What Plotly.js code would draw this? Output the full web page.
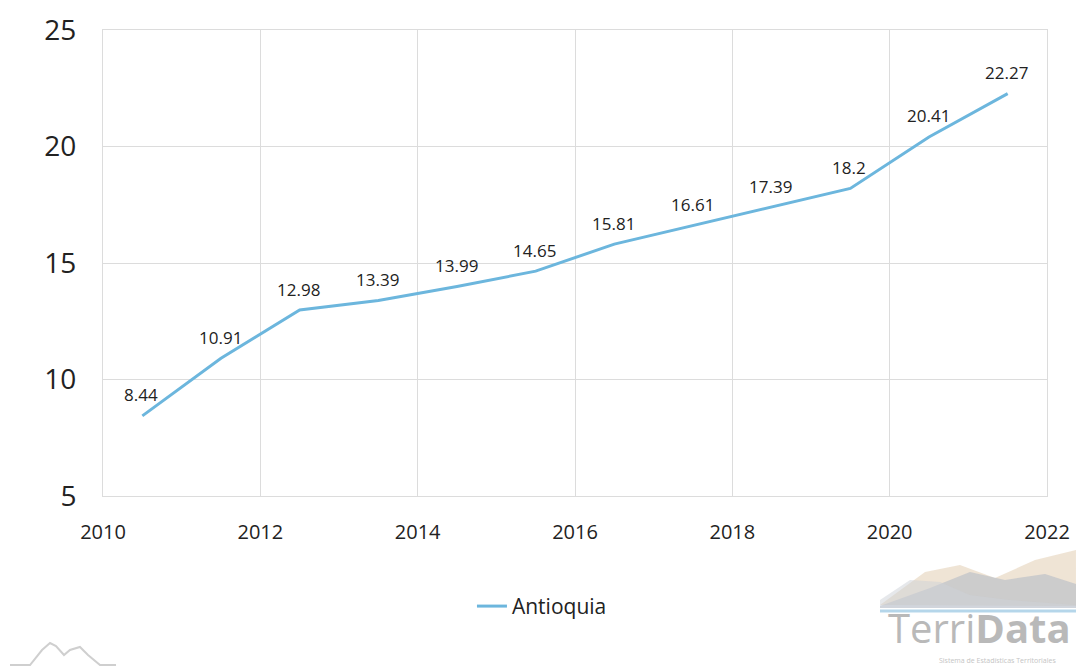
<!DOCTYPE html>
<html>
<head>
<meta charset="utf-8">
<script src="https://cdn.plot.ly/plotly-3.0.1.min.js"></script>
<style>html,body{margin:0;padding:0;background:#fff;}#chart{width:1076px;height:667px;}</style>
</head>
<body>
<div id="chart"></div>
<script>
const years = [2010.5, 2011.5, 2012.5, 2013.5, 2014.5, 2015.5, 2016.5, 2017.5, 2018.5, 2019.5, 2020.5, 2021.5];
const values = [8.44, 10.91, 12.98, 13.39, 13.99, 14.65, 15.81, 16.61, 17.39, 18.2, 20.41, 22.27];
const labels = ["8.44", "10.91", "12.98", "13.39", "13.99", "14.65", "15.81", "16.61", "17.39", "18.2", "20.41", "22.27"];
const seriesName = "Antioquia";

const trace = {
  x: years, y: values, type: "scatter", mode: "lines",
  name: seriesName,
  line: {color: "#6cb6dd", width: 3}
};

// decorative logo helpers (pixel -> paper)
const L = 103, R = 1047, T = 30, B = 496;
function px(x) { return (x - L) / (R - L); }
function py(y) { return (B - y) / (B - T); }
function path(pts, close) {
  return pts.map((p, i) => (i ? "L" : "M") + px(p[0]).toFixed(4) + "," + py(p[1]).toFixed(4)).join(" ") + (close ? " Z" : "");
}

const dataLabels = years.map((x, i) => ({
  x: x, y: values[i], xref: "x", yref: "y", text: labels[i], showarrow: false,
  yshift: 21, xshift: -1, font: {family: "Open Sans", size: 17, color: "#222"}
}));

const logoShapes = [
  {type: "path", xref: "paper", yref: "paper", layer: "below", line: {width: 0},
   fillcolor: "rgba(226,206,178,0.55)",
   path: path([[880,605],[925,572],[960,565],[995,578],[1035,560],[1076,550],[1076,606]], true)},
  {type: "path", xref: "paper", yref: "paper", layer: "below", line: {width: 0},
   fillcolor: "rgba(170,180,195,0.5)",
   path: path([[880,606],[930,588],[970,572],[1005,580],[1045,574],[1076,584],[1076,608],[880,608]], true)},
  {type: "path", xref: "paper", yref: "paper", layer: "below", line: {width: 0},
   fillcolor: "rgba(205,210,215,0.5)",
   path: path([[880,600],[910,580],[940,582],[970,595],[1010,600],[1076,605],[1076,608],[880,608]], true)},
  {type: "path", xref: "paper", yref: "paper", layer: "below", line: {color: "rgba(173,210,232,0.9)", width: 3},
   path: path([[880,611],[1076,611]], false)},
  {type: "path", xref: "paper", yref: "paper", layer: "below", line: {color: "#cfcfcf", width: 2},
   path: path([[10,665],[30,665],[42,650],[50,643],[56,646],[64,655],[70,650],[80,647],[88,655],[100,665],[116,665]], false)}
];

const layout = {
  width: 1076, height: 667,
  margin: {l: 103, r: 29, t: 30, b: 171},
  paper_bgcolor: "#fff", plot_bgcolor: "#fff",
  font: {family: "Open Sans", color: "#222"},
  showlegend: true,
  legend: {orientation: "h", x: 0.465, xanchor: "center", y: -0.193, yanchor: "top", font: {size: 21, color: "#222"}},
  xaxis: {range: [2010, 2022], dtick: 2, tick0: 2010, showgrid: true, gridcolor: "#dcdcdc", gridwidth: 1,
    showline: true, linecolor: "#dcdcdc", mirror: true, zeroline: false, ticks: "",
    tickfont: {size: 20, color: "#222"}, ticklabelstandoff: 18},
  yaxis: {range: [5, 25], dtick: 5, showgrid: true, gridcolor: "#dcdcdc", gridwidth: 1,
    showline: true, linecolor: "#dcdcdc", mirror: true, zeroline: false, ticks: "",
    tickfont: {size: 28, color: "#222"}, ticklabelstandoff: 20},
  shapes: logoShapes,
  annotations: dataLabels.concat([
    {xref: "paper", yref: "paper", x: px(1073), y: py(657), xanchor: "right", yanchor: "bottom", showarrow: false,
     text: "Terri<b>Data</b>", font: {family: "Open Sans", size: 40, color: "#b9b9b9"}},
    {xref: "paper", yref: "paper", x: px(1058), y: py(667), xanchor: "right", yanchor: "bottom", showarrow: false,
     text: "Sistema de Estadísticas Territoriales", font: {family: "Open Sans", size: 7, color: "#c4c4c4"}}
  ])
};

Plotly.newPlot("chart", [trace], layout, {displayModeBar: false, staticPlot: true});
</script>
</body>
</html>
